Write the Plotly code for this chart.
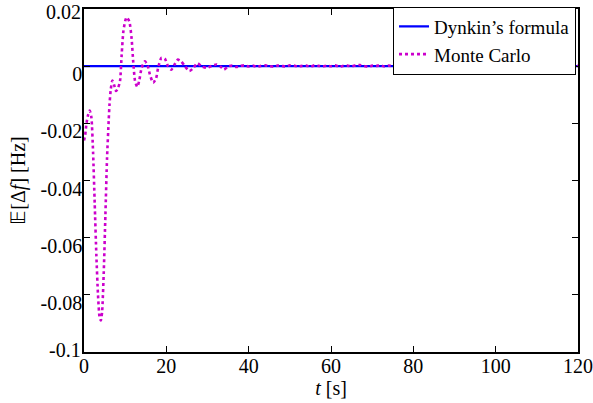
import plotly.graph_objects as go

# Dynkin's formula (analytical mean): zero
dynkin_t = [0, 120]
dynkin_v = [0.0, 0.0]

# Monte Carlo estimate - transient part
mc_t_transient = [0.0, 0.3, 0.6, 1.0, 1.4, 1.8, 2.2, 2.6, 3.0, 3.4, 3.8, 4.1, 4.4, 4.8, 5.2, 5.6,
                  6.0, 6.2, 6.5, 6.9, 7.3, 7.8, 8.3, 8.75, 9.15, 9.55, 10.0, 10.35, 11.0, 11.55,
                  11.95, 12.4, 12.95, 13.4, 14.0, 14.8, 15.5, 16.0, 16.8, 17.5, 18.0, 18.8, 19.6,
                  20.4, 21.2, 22.0, 22.8, 23.6, 24.5, 25.6, 26.6, 27.5, 28.6, 29.8, 31.0, 32.2,
                  33.2, 34.0, 35.0]
mc_v_transient = [-0.026, -0.024, -0.020, -0.017, -0.0155, -0.018, -0.030, -0.048, -0.066, -0.080,
                  -0.088, -0.089, -0.086, -0.072, -0.052, -0.032, -0.019, -0.0134, -0.0081,
                  -0.005, -0.0065, -0.0087, -0.0075, -0.0052, 0.004, 0.012, 0.0158, 0.0171,
                  0.0157, 0.0099, 0.0017, -0.0052, -0.0073, -0.0052, -0.0006, 0.0017, 0.0,
                  -0.0029, -0.0058, -0.0043, -0.0006, 0.0029, 0.0027, 0.0, -0.0012, 0.0006,
                  0.0023, 0.0017, 0.0, -0.0017, -0.0006, 0.0011, -0.0001, -0.0006, 0.0001,
                  0.0006, -0.0002, -0.0012, -0.0001]

# Monte Carlo estimate - steady-state part (small fluctuations)
mc_t_tail = list(range(36, 121))
mc_v_tail = [0.0002, -0.0003, 0.0001, 0.0003, -0.0001, 0.0002, -0.0002, 0.0001, 0.0003, 0.0000,
             -0.0002, 0.0002, 0.0001, -0.0001, 0.0003, 0.0002, -0.0001, 0.0001, 0.0002, -0.0002,
             0.0003, 0.0001, -0.0001, 0.0002, 0.0000, 0.0003, -0.0002, 0.0001, 0.0002, -0.0001,
             0.0003, 0.0004, 0.0001, -0.0002, 0.0002, 0.0001, 0.0003, -0.0001, 0.0002, 0.0000,
             -0.0002, 0.0001, 0.0003, 0.0002, -0.0001, 0.0002, 0.0004, 0.0001, 0.0002, -0.0001,
             0.0003, 0.0002, 0.0000, 0.0002, -0.0002, 0.0001, 0.0003, 0.0001, -0.0001, 0.0002,
             0.0003, 0.0004, 0.0002, 0.0001, -0.0001, 0.0002, 0.0003, 0.0001, 0.0000, 0.0002,
             -0.0001, 0.0002, 0.0001, 0.0003, -0.0001, 0.0002, 0.0001, 0.0000, 0.0002, -0.0001,
             0.0003, 0.0001, 0.0002, 0.0000, 0.0001]

x_ticks = [0, 20, 40, 60, 80, 100, 120]
y_ticks = [-0.1, -0.08, -0.06, -0.04, -0.02, 0, 0.02]
y_tick_labels = ["-0.1", "-0.08", "-0.06", "-0.04", "-0.02", "0", "0.02"]

n = min(len(mc_t_tail), len(mc_v_tail))
mc_t = mc_t_transient + mc_t_tail[:n]
mc_v = mc_v_transient + mc_v_tail[:n]

FONT = "Liberation Serif, serif"

fig = go.Figure()
fig.add_trace(go.Scatter(x=dynkin_t, y=dynkin_v, mode="lines", name="Dynkin’s formula",
                         line=dict(color="#0000ff", width=2.2)))
fig.add_trace(go.Scatter(x=mc_t, y=mc_v, mode="lines", name="Monte Carlo",
                         line=dict(color="#cc00cc", width=2.6, dash="dot", shape="spline", smoothing=0.6)))

axis_common = dict(showgrid=False, zeroline=False, showline=True, linecolor="black", linewidth=1.5,
                   mirror="ticks", ticks="inside", ticklen=6, tickcolor="black", tickwidth=1,
                   automargin=False,
                   tickfont=dict(family=FONT, size=20, color="black"))

# the lowest and highest y labels sit closer to their ticks, so they are annotations
edge_idx = [0, len(y_ticks) - 1]
y_text_axis = ["" if i in edge_idx else lbl for i, lbl in enumerate(y_tick_labels)]
edge_shift = {0: 2, len(y_ticks) - 1: -3}

fig.update_layout(
    width=593, height=403,
    margin=dict(l=84, r=15, t=8, b=51),
    paper_bgcolor="white", plot_bgcolor="white",
    font=dict(family=FONT, size=20, color="black"),
    xaxis=dict(range=[0, 120], tickvals=x_ticks, ticktext=[str(v) for v in x_ticks],
               title=dict(text="<i>t</i> [s]", font=dict(family=FONT, size=20), standoff=0),
               ticklabelstandoff=-5, **axis_common),
    yaxis=dict(range=[-0.1, 0.02001], tickvals=y_ticks, ticktext=y_text_axis,
               title=dict(text="𝔼[Δ<i>f</i>] [Hz]", font=dict(family=FONT, size=20), standoff=10),
               ticklabelstandoff=-4, ticklabelshift=8, **axis_common),
    legend=dict(x=0.996, y=1.004, xanchor="right", yanchor="top",
                bgcolor="white", bordercolor="black", borderwidth=1,
                font=dict(family=FONT, size=19), tracegroupgap=0, itemwidth=30),
    showlegend=True,
    annotations=[dict(x=0, y=y_ticks[i], xref="x", yref="y", text=y_tick_labels[i],
                      showarrow=False, xanchor="right", yanchor="middle", xshift=-1,
                      yshift=edge_shift[i], font=dict(family=FONT, size=20, color="black"))
                 for i in edge_idx],
)

fig.write_html("out.html", config={"displayModeBar": False})

# remove the default page margin so the figure sits at the window's top-left corner
with open("out.html", "r", encoding="utf-8") as f:
    html = f.read()
html = html.replace("<body>", "<body style=\"margin:0;padding:0;overflow:hidden\">", 1)
with open("out.html", "w", encoding="utf-8") as f:
    f.write(html)
